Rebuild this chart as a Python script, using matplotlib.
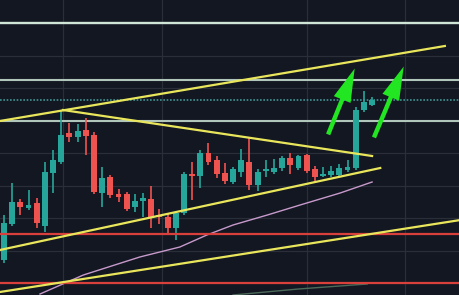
import matplotlib
matplotlib.use("Agg")
import matplotlib.pyplot as plt
from matplotlib.patches import FancyArrowPatch
import numpy as np

# свечи (цена в условных единицах)
opens = [35, 71, 93, 87, 92, 69, 122, 133, 162, 158, 165, 160, 102, 118, 101, 101,
         88, 94, 96, 80, 78, 67, 82, 121, 119, 142, 135, 122, 113, 123, 133, 110,
         124, 123, 127, 137, 127, 140, 126, 119, 120, 120, 125, 127, 185, 190]
highs = [80, 112, 96, 105, 97, 133, 145, 185, 172, 171, 177, 163, 128, 120, 106, 103,
         101, 102, 109, 86, 82, 84, 123, 133, 145, 152, 139, 132, 128, 146, 157, 126,
         135, 136, 139, 142, 140, 141, 129, 128, 129, 131, 135, 188, 204, 198]
lows = [32, 69, 80, 85, 67, 63, 102, 131, 153, 153, 140, 101, 88, 97, 93, 84,
        83, 78, 67, 71, 62, 55, 80, 95, 107, 130, 117, 111, 111, 118, 105, 104,
        118, 121, 124, 121, 125, 122, 114, 118, 118, 118, 123, 125, 183, 189]
closes = [72, 93, 88, 90, 72, 123, 135, 160, 158, 164, 159, 103, 117, 100, 98, 86,
          94, 97, 77, 78, 67, 82, 121, 119, 142, 133, 121, 114, 126, 135, 110, 123,
          126, 127, 137, 130, 139, 124, 118, 121, 124, 127, 128, 185, 193, 195]

# горизонтальные уровни
levels_bright = [215, 174]
level_top = 272
level_dotted = 195
levels_red = [61, 12]
grid_y = [272, 239, 207, 174, 142, 109, 77, 44, 12]
grid_x = [7.2, 19.3, 37.0, 49.0]

# трендовые линии: (x1, y1, x2, y2)
trend_lines = [
    (-0.5, 174, 53.9, 249),
    (7.2, 185, 45.0, 139),
    (-0.5, 45, 46.0, 127),
    (-0.5, 3, 55.8, 75),
]

# скользящие средние
ma_x = [4.4, 9.7, 16.6, 21.5, 24.8, 28.0, 32.2, 36.2, 41.1, 45.0]
ma_y = [1, 20, 38, 48, 60, 70, 80, 90, 102, 113]
ma2_x = [28.0, 36.0, 44.4]
ma2_y = [0, 6, 11]

# стрелки: (хвост, острие)
arrows = [((39.5, 158), (43.0, 229)), ((45.1, 155), (49.0, 231))]

BG = '#131722'
UP = '#26a69a'
DOWN = '#ef5350'

fig = plt.figure(figsize=(4.6, 2.95), dpi=100, facecolor=BG)
ax = fig.add_axes([0, 0, 1, 1])
ax.set_facecolor(BG)
ax.set_xlim(-0.49, 55.75)
ax.set_ylim(0, 295)
ax.axis('off')

for y in grid_y:
    ax.axhline(y, color='#2a2e39', lw=0.9, zorder=0)
for x in grid_x:
    ax.axvline(x, color='#2a2e39', lw=0.9, zorder=0)

ax.axhline(level_top, color='#cfe5d8', lw=1.7, zorder=1)
for y in levels_bright:
    ax.axhline(y, color='#b0c6ba', lw=1.5, zorder=1)
ax.axhline(level_dotted, color='#3f9494', lw=1.2, ls=(0, (1, 1)), zorder=1)

ax.plot(ma_x, ma_y, color='#c79acb', lw=1.0, zorder=2)
ax.plot(ma2_x, ma2_y, color='#4c6a5a', lw=1.0, zorder=2)

idx = np.arange(len(opens))
o = np.array(opens)
c = np.array(closes)
colors = [UP if cc >= oo else DOWN for oo, cc in zip(o, c)]
ax.vlines(idx, lows, highs, colors=colors, lw=1.2, zorder=3)
ax.bar(idx, np.maximum(np.abs(c - o), 1.5), bottom=np.minimum(o, c),
       width=0.72, color=colors, zorder=3)

for y in levels_red:
    ax.axhline(y, color='#d9403c', lw=1.6, zorder=4)
for x1, y1, x2, y2 in trend_lines:
    ax.plot([x1, x2], [y1, y2], color='#e9e65c', lw=1.6, zorder=5)

for tail, tip in arrows:
    ax.add_patch(FancyArrowPatch(tail, tip,
                                 arrowstyle='simple,tail_width=3.2,head_width=13,head_length=24',
                                 color='#22e622', lw=0, zorder=6))

plt.savefig('out.png', dpi=100, facecolor=BG)
